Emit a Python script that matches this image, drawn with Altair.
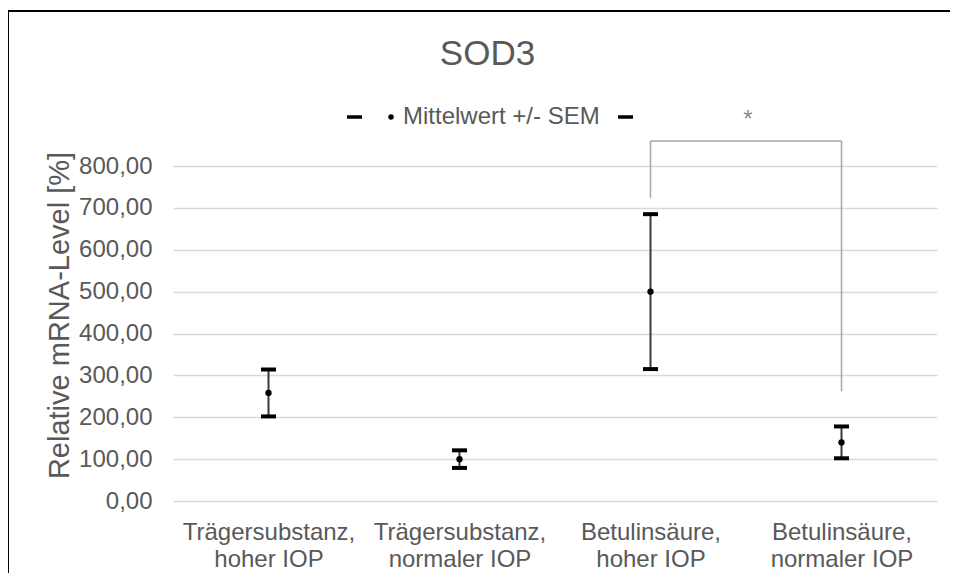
import json
import altair as alt
import pandas as pd

# ---- data ----
categories = ["Trägersubstanz, hoher IOP", "Trägersubstanz, normaler IOP",
              "Betulinsäure, hoher IOP", "Betulinsäure, normaler IOP"]
label_lines = [["Trägersubstanz,", "hoher IOP"], ["Trägersubstanz,", "normaler IOP"],
               ["Betulinsäure,", "hoher IOP"], ["Betulinsäure,", "normaler IOP"]]
positions = [1, 2, 3, 4]
means = [258, 100, 500, 140]
sems = [56, 21, 185, 38]

# significance bracket between group 3 and 4
bracket_x = [3, 4]
bracket_bottom = [724, 262]
bracket_top = 860
star_y = 893
y_ticks = [0, 100, 200, 300, 400, 500, 600, 700, 800]

df = pd.DataFrame({
    "pos": positions,
    "cat": categories,
    "mean": means,
    "low": [m - s for m, s in zip(means, sems)],
    "high": [m + s for m, s in zip(means, sems)],
})
br_v = pd.DataFrame({"pos": bracket_x, "low": bracket_bottom, "high": [bracket_top] * 2})
br_h = pd.DataFrame({"x1": [bracket_x[0]], "x2": [bracket_x[1]], "y": [bracket_top]})
star_df = pd.DataFrame({"pos": [(bracket_x[0] + bracket_x[1]) / 2], "y": [star_y], "t": ["*"]})

FONT = "Liberation Sans"
GREY_TXT = "#595959"

label_expr = json.dumps(label_lines, ensure_ascii=False) + "[datum.value - 1]"

xscale = alt.Scale(domain=[0.5, 4.5], nice=False, zero=False)
yscale = alt.Scale(domain=[0, 800], nice=False)

x_axis = alt.Axis(values=positions, labelExpr=label_expr, domain=False, ticks=False,
                  grid=False, labelPadding=19, labelFontSize=24, labelColor=GREY_TXT,
                  labelFont=FONT, labelLineHeight=27, title=None, labelAngle=0)
y_axis = alt.Axis(values=y_ticks, labelExpr="replace(format(datum.value, '.2f'), '.', ',')",
                  domain=False, ticks=False, tickSize=0, grid=True, gridColor="#d9d9d9",
                  gridWidth=1.5, labelPadding=21, labelFontSize=24, labelColor=GREY_TXT,
                  labelFont=FONT, title="Relative mRNA-Level [%]", titleFontSize=29,
                  titleFont=FONT, titleColor=GREY_TXT, titleFontWeight="normal",
                  titleX=-105, titleY=149, titleAngle=-90, titleAlign="center",
                  titleBaseline="alphabetic")

base = alt.Chart(df)

err = base.mark_rule(color="#3a3a3a", strokeWidth=2).encode(
    x=alt.X("pos:Q", scale=xscale, axis=x_axis),
    y=alt.Y("low:Q", scale=yscale, axis=y_axis),
    y2="high:Q",
)
cap_lo = base.mark_tick(color="black", thickness=4, size=15, orient="horizontal",
                        opacity=1).encode(
    x=alt.X("pos:Q", scale=xscale, axis=x_axis), y=alt.Y("low:Q", scale=yscale, axis=y_axis))
cap_hi = base.mark_tick(color="black", thickness=4, size=15, orient="horizontal",
                        opacity=1).encode(
    x=alt.X("pos:Q", scale=xscale, axis=x_axis), y=alt.Y("high:Q", scale=yscale, axis=y_axis))
dots = base.mark_point(filled=True, color="black", size=40, opacity=1, shape="circle").encode(
    x=alt.X("pos:Q", scale=xscale, axis=x_axis), y=alt.Y("mean:Q", scale=yscale, axis=y_axis))

bv = alt.Chart(br_v).mark_rule(color="#a6a6a6", strokeWidth=1.5).encode(
    x=alt.X("pos:Q", scale=xscale, axis=x_axis), y=alt.Y("low:Q", scale=yscale, axis=y_axis),
    y2="high:Q")
bh = alt.Chart(br_h).mark_rule(color="#a6a6a6", strokeWidth=1.5).encode(
    x=alt.X("x1:Q", scale=xscale, axis=x_axis), x2="x2:Q",
    y=alt.Y("y:Q", scale=yscale, axis=y_axis))
star = alt.Chart(star_df).mark_text(font=FONT, fontSize=24, color="#8c8c8c",
                                    baseline="alphabetic", align="center", dx=2).encode(
    x=alt.X("pos:Q", scale=xscale, axis=x_axis), y=alt.Y("y:Q", scale=yscale, axis=y_axis),
    text="t:N")

# ---- decorations: title, legend, frame ----
title = alt.Chart(pd.DataFrame({"t": ["SOD3"]})).mark_text(
    font=FONT, fontSize=35, color=GREY_TXT, align="center", baseline="alphabetic").encode(
    x=alt.value(314.5), y=alt.value(-101), text="t:N")
leg_text = alt.Chart(pd.DataFrame({"t": ["Mittelwert +/- SEM"]})).mark_text(
    font=FONT, fontSize=24, color=GREY_TXT, align="left", baseline="middle").encode(
    x=alt.value(230), y=alt.value(-49), text="t:N")
leg_dash1 = alt.Chart(pd.DataFrame({"a": [0]})).mark_rule(color="black", strokeWidth=3.5).encode(
    x=alt.value(174), x2=alt.value(189), y=alt.value(-49))
leg_dash2 = alt.Chart(pd.DataFrame({"a": [0]})).mark_rule(color="black", strokeWidth=3.5).encode(
    x=alt.value(445), x2=alt.value(460), y=alt.value(-49))
leg_dot = alt.Chart(pd.DataFrame({"a": [0]})).mark_point(filled=True, color="black", size=30,
                                                         opacity=1).encode(
    x=alt.value(218), y=alt.value(-49))
frame_l = alt.Chart(pd.DataFrame({"a": [0]})).mark_rule(color="black", strokeWidth=2).encode(
    x=alt.value(-165), y=alt.value(-155), y2=alt.value(420))
frame_t = alt.Chart(pd.DataFrame({"a": [0]})).mark_rule(color="black", strokeWidth=2).encode(
    x=alt.value(-166), x2=alt.value(777), y=alt.value(-155))

chart = alt.layer(err, cap_lo, cap_hi, dots, bv, bh, star, title, leg_text,
                  leg_dash1, leg_dash2, leg_dot, frame_l, frame_t).properties(
    width=764, height=335,
    autosize=alt.AutoSizeParams(type="none"),
    padding={"left": 165, "top": 158, "right": 13, "bottom": 72},
).configure(background="white").configure_view(stroke="transparent", strokeWidth=0)

chart.save("out.html", embed_options={"renderer": "svg", "actions": False})
